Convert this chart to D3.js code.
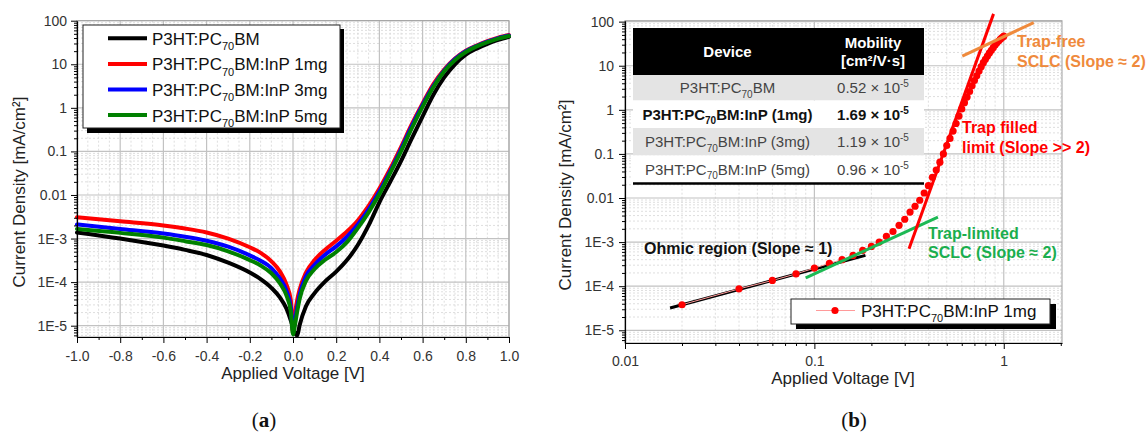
<!DOCTYPE html>
<html>
<head>
<meta charset="utf-8">
<script src="https://cdn.jsdelivr.net/npm/d3@7"></script>
<style>
  body { margin: 0; background: #fff; }
  svg { font-family: "Liberation Sans", Arial, sans-serif; }
</style>
</head>
<body>
<svg id="chart" width="1148" height="439"></svg>
<script>
// ---- panel (a): dark J-V curves ----
const voltages = [-1, -0.8, -0.6, -0.5, -0.4, -0.3, -0.2, -0.15, -0.1, -0.06, -0.03, -0.01, 0,
  0.01, 0.02, 0.03, 0.06, 0.1, 0.15, 0.2, 0.25, 0.3, 0.35, 0.4, 0.45, 0.5, 0.55, 0.6,
  0.65, 0.7, 0.75, 0.8, 0.85, 0.9, 0.95, 1.0];

const jvRef = [1.38e-3, 1.0e-3, 6.9e-4, 5.5e-4, 4.2e-4, 2.8e-4, 1.66e-4, 1.17e-4, 7.4e-5, 4.4e-5, 2.45e-5, 1.3e-5, 8.9e-6,
  6.6e-6, 6.0e-6, 1.0e-5, 2.8e-5, 5.6e-5, 1.05e-4, 1.74e-4, 3.2e-4, 7.1e-4, 2.0e-3, 6.8e-3, 2.0e-2, 6.0e-2, 0.2, 0.64,
  2.0, 5.0, 10, 16.6, 22.9, 29.5, 36.3, 42.7];
const jv1mg = [3.1e-3, 2.5e-3, 2.0e-3, 1.7e-3, 1.38e-3, 1.0e-3, 6.3e-4, 4.7e-4, 3.0e-4, 1.74e-4, 8.7e-5, 3.8e-5, 7.1e-6,
  2.0e-5, 4.0e-5, 6.6e-5, 1.66e-4, 3.2e-4, 5.6e-4, 8.9e-4, 1.45e-3, 2.6e-3, 5.6e-3, 1.4e-2, 4.0e-2, 0.126, 0.42, 1.26,
  3.5, 7.6, 13.5, 20.4, 26.9, 33.9, 40.7, 46.8];
const jv3mg = [2.1e-3, 1.66e-3, 1.3e-3, 1.1e-3, 8.9e-4, 6.5e-4, 4.1e-4, 3.1e-4, 2.1e-4, 1.2e-4, 6.3e-5, 2.6e-5, 7.6e-6,
  1.4e-5, 2.8e-5, 5.0e-5, 1.35e-4, 2.5e-4, 4.3e-4, 6.6e-4, 1.1e-3, 2.1e-3, 4.7e-3, 1.2e-2, 3.5e-2, 0.112, 0.38, 1.17,
  3.2, 7.2, 13.2, 20, 26.3, 33.1, 39.8, 45.7];
const jv5mg = [1.66e-3, 1.35e-3, 1.05e-3, 8.7e-4, 7.1e-4, 5.1e-4, 3.2e-4, 2.4e-4, 1.6e-4, 9.3e-5, 4.9e-5, 2.1e-5, 6.3e-6,
  1.1e-5, 2.2e-5, 4.0e-5, 1.07e-4, 2.0e-4, 3.3e-4, 4.9e-4, 8.3e-4, 1.74e-3, 4.0e-3, 1.05e-2, 3.2e-2, 0.1, 0.34, 1.07,
  3.0, 6.9, 12.6, 19.1, 25.7, 32.4, 38.9, 44.7];

const seriesNames = ["P3HT:PC70BM", "P3HT:PC70BM:InP 1mg", "P3HT:PC70BM:InP 3mg", "P3HT:PC70BM:InP 5mg"];
const seriesColors = ["#000000", "#ff0000", "#0000ff", "#008000"];
const seriesValues = [jvRef, jv1mg, jv3mg, jv5mg];

const leftXTicks = [-1.0, -0.8, -0.6, -0.4, -0.2, 0.0, 0.2, 0.4, 0.6, 0.8, 1.0];
const logTicks = [1e-5, 1e-4, 1e-3, 0.01, 0.1, 1, 10, 100];

// ---- panel (b): SCLC of 1 mg device ----
const sclcVoltage = [0.02, 0.04, 0.06, 0.08, 0.10, 0.12, 0.14, 0.16, 0.18, 0.20,
  0.22, 0.24, 0.26, 0.28, 0.30, 0.32, 0.34, 0.36, 0.38, 0.40,
  0.42, 0.44, 0.46, 0.48, 0.50, 0.52, 0.54, 0.56, 0.58, 0.60,
  0.62, 0.64, 0.66, 0.68, 0.70, 0.72, 0.74, 0.76, 0.78, 0.80,
  0.82, 0.84, 0.86, 0.88, 0.90, 0.92, 0.94, 0.96, 0.98, 1.00];
const sclcCurrent = [3.8e-5, 8.7e-5, 1.35e-4, 1.9e-4, 2.57e-4, 3.3e-4, 4.0e-4, 5.0e-4, 6.5e-4, 8.0e-4,
  1.0e-3, 1.35e-3, 1.74e-3, 2.4e-3, 3.3e-3, 4.8e-3, 6.5e-3, 8.9e-3, 0.013, 0.019,
  0.0295, 0.043, 0.065, 0.1, 0.155, 0.225, 0.33, 0.49, 0.72, 1.05,
  1.45, 1.95, 2.6, 3.5, 4.6, 5.9, 7.6, 9.5, 11.7, 14,
  16.6, 19.5, 22.4, 25.7, 29.5, 33, 36.3, 40, 43.6, 46.8];

const fitOhmic = [[0.0173, 3.2e-5], [0.186, 5.0e-4]];
const fitTrapLimited = [[0.090, 1.55e-4], [0.449, 3.7e-3]];
const fitTrapFilled = [[0.316, 7.1e-4], [0.883, 150]];
const fitTrapFree = [[0.604, 16.6], [1.44, 95]];

const rightXTicks = [0.01, 0.1, 1];

const tableDevices = ["P3HT:PC70BM", "P3HT:PC70BM:InP (1mg)", "P3HT:PC70BM:InP (3mg)", "P3HT:PC70BM:InP (5mg)"];
const tableMobility = ["0.52", "1.69", "1.19", "0.96"]; // x 10^-5 cm2/V.s

const svg = d3.select("#chart");
const FONT = "Liberation Sans, Arial, sans-serif";

function minorLog(scale) {
  const [a, b] = scale.domain();
  let out = [];
  for (let e = -7; e <= 3; e++) {
    for (let k = 2; k <= 9; k++) {
      const v = k * Math.pow(10, e);
      if (v > a && v < b) out.push(v);
    }
  }
  return out;
}

function logLabel(v) {
  return v < 0.005 ? "1E" + Math.round(Math.log10(v)) : String(v);
}

// label with "70" as a subscript after PC
function richLabel(sel, label, size, subSize) {
  const i = label.indexOf("PC70");
  sel.append("tspan").text(label.slice(0, i + 2));
  sel.append("tspan").attr("font-size", subSize).attr("dy", size * 0.3).text("70");
  sel.append("tspan").attr("dy", -size * 0.3).text(label.slice(i + 4));
}

function drawFrame(x, y, xMaj, xMin, yMaj, yMin) {
  const [x0, x1] = x.range(), [y0, y1] = y.range();
  const g = svg.append("g");
  g.selectAll(".gxmin").data(xMin).join("line").attr("class", "gxmin")
    .attr("x1", x).attr("x2", x).attr("y1", y1).attr("y2", y0);
  g.selectAll(".gymin").data(yMin).join("line").attr("class", "gymin")
    .attr("y1", y).attr("y2", y).attr("x1", x0).attr("x2", x1);
  g.selectAll(".gxmin,.gymin").attr("stroke", "#d6d6d6").attr("stroke-width", 0.8).attr("stroke-dasharray", "2,2");
  g.selectAll(".gxmaj").data(xMaj).join("line").attr("class", "gxmaj")
    .attr("x1", x).attr("x2", x).attr("y1", y1).attr("y2", y0);
  g.selectAll(".gymaj").data(yMaj).join("line").attr("class", "gymaj")
    .attr("y1", y).attr("y2", y).attr("x1", x0).attr("x2", x1);
  g.selectAll(".gxmaj,.gymaj").attr("stroke", "#c2c2c2").attr("stroke-width", 1.2);
  g.append("rect").attr("x", x0).attr("y", y1).attr("width", x1 - x0).attr("height", y0 - y1)
    .attr("fill", "none").attr("stroke", "#a0a0a0").attr("stroke-width", 1);
}

function drawAxes(x, y, xMaj, xMin, xFmt, yMin, opts) {
  const [x0] = x.range(), [y0] = y.range();
  const ax = svg.append("g").attr("transform", `translate(0,${y0})`)
    .call(d3.axisBottom(x).tickValues(xMaj).tickFormat(xFmt).tickSize(6).tickPadding(opts.xPad).tickSizeOuter(0));
  svg.append("g").attr("transform", `translate(0,${y0})`)
    .call(d3.axisBottom(x).tickValues(xMin).tickFormat("").tickSize(3))
    .call(s => s.select(".domain").remove());
  const ay = svg.append("g").attr("transform", `translate(${x0},0)`)
    .call(d3.axisLeft(y).tickValues(logTicks).tickFormat(logLabel).tickSize(6).tickPadding(opts.yPad).tickSizeOuter(0));
  svg.append("g").attr("transform", `translate(${x0},0)`)
    .call(d3.axisLeft(y).tickValues(yMin).tickFormat("").tickSize(3))
    .call(s => s.select(".domain").remove());
  [ax, ay].forEach(a => a.attr("font-family", FONT).attr("font-size", 14)
    .selectAll("text").attr("fill", "#333"));
  svg.selectAll(".domain").attr("stroke-width", 1.2);

  svg.append("text").attr("x", opts.xTitleX).attr("y", opts.xTitleY)
    .attr("text-anchor", "middle").attr("font-size", 17).attr("fill", "#222")
    .text("Applied Voltage [V]");
  svg.append("text").attr("transform", `translate(${opts.yTitleX},${opts.yTitleY}) rotate(-90)`)
    .attr("text-anchor", "middle").attr("font-size", 17).attr("fill", "#222")
    .text("Current Density [mA/cm²]");
}

// ================= panel (a) =================
const xL = d3.scaleLinear().domain([-1, 1]).range([77, 509]);
const yL = d3.scaleLog().domain([5.5e-6, 100]).range([337, 20.7]);
const xLMinor = d3.range(-1, 1.001, 0.05).map(v => +v.toFixed(2)).filter(v => leftXTicks.indexOf(v) < 0);
const yLMinor = minorLog(yL);

drawFrame(xL, yL, leftXTicks, xLMinor, logTicks, yLMinor);

const lineL = d3.line().x(d => xL(d[0])).y(d => yL(d[1])).curve(d3.curveMonotoneX);
[0, 1, 2, 3].forEach(i => {
  svg.append("path")
    .datum(voltages.map((v, j) => [v, seriesValues[i][j]]))
    .attr("d", lineL).attr("fill", "none")
    .attr("stroke", seriesColors[i]).attr("stroke-width", 4)
    .attr("stroke-linejoin", "round").attr("stroke-linecap", "round");
});

drawAxes(xL, yL, leftXTicks, d3.range(-0.9, 1, 0.2), v => v.toFixed(1), yLMinor,
  {xPad: 8, yPad: 4, xTitleX: 293, xTitleY: 379, yTitleX: 25, yTitleY: 192});

// legend (a)
const legA = svg.append("g");
legA.append("rect").attr("x", 87).attr("y", 29).attr("width", 257).attr("height", 104).attr("fill", "#000");
legA.append("rect").attr("x", 83).attr("y", 25).attr("width", 257).attr("height", 103)
  .attr("fill", "#fff").attr("stroke", "#222").attr("stroke-width", 1);
seriesNames.forEach((name, i) => {
  const cy = 38.3 + i * 25.6;
  legA.append("line").attr("x1", 108).attr("x2", 147).attr("y1", cy).attr("y2", cy)
    .attr("stroke", seriesColors[i]).attr("stroke-width", 4);
  const t = legA.append("text").attr("x", 152).attr("y", cy + 6.5).attr("font-size", 17).attr("fill", "#111");
  richLabel(t, name, 17, 11);
});

// ================= panel (b) =================
const xR = d3.scaleLog().domain([0.01, 2.03]).range([625, 1062]);
const yR = d3.scaleLog().domain([5.15e-6, 105]).range([343, 20.7]);
const xRMinor = minorLog(xR);
const yRMinor = minorLog(yR);

drawFrame(xR, yR, rightXTicks, xRMinor, logTicks, yRMinor);

// mobility table
const tab = svg.append("g");
const tx0 = 633, tx1 = 924, tMid = 822;
const rowTops = [75, 100.5, 128, 155.5, 183];
tab.append("rect").attr("x", tx0).attr("y", 28).attr("width", tx1 - tx0).attr("height", 47).attr("fill", "#000");
tableDevices.forEach((dev, i) => {
  tab.append("rect").attr("x", tx0).attr("y", rowTops[i]).attr("width", tx1 - tx0)
    .attr("height", rowTops[i + 1] - rowTops[i]).attr("fill", i % 2 === 0 ? "#e4e4e4" : "#fff");
  const bold = i === 1;
  const base = rowTops[i] + (rowTops[i + 1] - rowTops[i]) / 2 + 5.5;
  const t = tab.append("text").attr("x", (tx0 + tMid) / 2).attr("y", base)
    .attr("text-anchor", "middle").attr("font-size", 15)
    .attr("font-weight", bold ? "bold" : "normal").attr("fill", bold ? "#111" : "#444");
  richLabel(t, dev, 15, 10);
  const m = tab.append("text").attr("x", (tMid + tx1) / 2).attr("y", base)
    .attr("text-anchor", "middle").attr("font-size", 15)
    .attr("font-weight", bold ? "bold" : "normal").attr("fill", bold ? "#111" : "#444");
  m.append("tspan").text(tableMobility[i] + " \u00d7 10");
  m.append("tspan").attr("font-size", 10).attr("dy", -6).text("-5");
});
tab.append("line").attr("x1", tx0).attr("x2", tx1).attr("y1", 183.5).attr("y2", 183.5)
  .attr("stroke", "#000").attr("stroke-width", 2.5);
tab.append("text").attr("x", (tx0 + tMid) / 2).attr("y", 57).attr("text-anchor", "middle")
  .attr("font-size", 15).attr("font-weight", "bold").attr("fill", "#fff").text("Device");
tab.append("text").attr("x", (tMid + tx1) / 2).attr("y", 48).attr("text-anchor", "middle")
  .attr("font-size", 15).attr("font-weight", "bold").attr("fill", "#fff").text("Mobility");
tab.append("text").attr("x", (tMid + tx1) / 2).attr("y", 66).attr("text-anchor", "middle")
  .attr("font-size", 15).attr("font-weight", "bold").attr("fill", "#fff").text("[cm²/V·s]");

const lineR = d3.line().x(d => xR(d[0])).y(d => yR(d[1]));
function fit(pts, color) {
  svg.append("path").datum(pts).attr("d", lineR).attr("fill", "none")
    .attr("stroke", color).attr("stroke-width", 3);
}

fit(fitOhmic, "#000");

const sclc = sclcVoltage.map((v, i) => [v, sclcCurrent[i]]);
svg.append("path").datum(sclc).attr("d", lineR).attr("fill", "none")
  .attr("stroke", "#ff9a9a").attr("stroke-width", 1);
svg.selectAll(".dot").data(sclc).join("circle").attr("class", "dot")
  .attr("cx", d => xR(d[0])).attr("cy", d => yR(d[1])).attr("r", 3.6).attr("fill", "#ff0000");

fit(fitTrapLimited, "#1db954");
fit(fitTrapFilled, "#ff0000");
fit(fitTrapFree, "#ef8a3c");

drawAxes(xR, yR, rightXTicks, xRMinor, v => String(v), yRMinor,
  {xPad: 7, yPad: 5, xTitleX: 843, xTitleY: 384, yTitleX: 571, yTitleY: 195});

// annotations
function note(x, y, lines, color) {
  const t = svg.append("text").attr("font-size", 16).attr("font-weight", "bold").attr("fill", color);
  lines.forEach((s, i) => t.append("tspan").attr("x", x).attr("y", y + i * 19.8).text(s));
}
note(644, 253.5, ["Ohmic region (Slope ≈ 1)"], "#111");
note(928, 238.5, ["Trap-limited", "SCLC (Slope ≈ 2)"], "#1aae4e");
note(962, 133, ["Trap filled", "limit (Slope >> 2)"], "#ff0000");
note(1017, 47, ["Trap-free", "SCLC (Slope ≈ 2)"], "#ef8a3c");

// legend (b)
const legB = svg.append("g");
legB.append("rect").attr("x", 796).attr("y", 304).attr("width", 260).attr("height", 25).attr("fill", "#000");
legB.append("rect").attr("x", 791).attr("y", 299).attr("width", 259).attr("height", 25)
  .attr("fill", "#fff").attr("stroke", "#222").attr("stroke-width", 1);
legB.append("line").attr("x1", 816).attr("x2", 855).attr("y1", 310.5).attr("y2", 310.5)
  .attr("stroke", "#ff9a9a").attr("stroke-width", 1.2);
legB.append("circle").attr("cx", 835).attr("cy", 310.5).attr("r", 3.6).attr("fill", "#ff0000");
const lbt = legB.append("text").attr("x", 861).attr("y", 316.5).attr("font-size", 17).attr("fill", "#111");
richLabel(lbt, "P3HT:PC70BM:InP 1mg", 17, 11);

// panel tags
[["a", 264], ["b", 854]].forEach(([k, x]) => {
  const t = svg.append("text").attr("x", x).attr("y", 427).attr("text-anchor", "middle")
    .attr("font-family", "Liberation Serif, Times New Roman, serif").attr("font-size", 21).attr("fill", "#111");
  t.append("tspan").text("(");
  t.append("tspan").attr("font-weight", "bold").text(k);
  t.append("tspan").text(")");
});
</script>
</body>
</html>
